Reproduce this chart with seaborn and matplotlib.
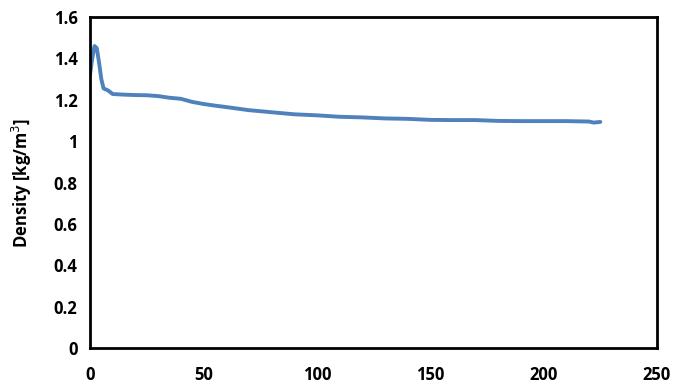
import matplotlib
matplotlib.use("Agg")
import matplotlib.pyplot as plt
import seaborn as sns
import pandas as pd

time = [0, 1, 2, 3, 4, 5, 6, 7, 8, 10, 15, 20, 25, 30, 35, 40, 45, 50, 55, 60,
        70, 80, 90, 100, 110, 120, 130, 140, 150, 160, 170, 180, 190, 200, 210,
        220, 222, 225]
density = [1.32, 1.40, 1.46, 1.45, 1.38, 1.30, 1.255, 1.25, 1.245, 1.228, 1.225,
           1.223, 1.222, 1.218, 1.21, 1.205, 1.19, 1.18, 1.172, 1.165, 1.15, 1.14,
           1.13, 1.125, 1.118, 1.115, 1.11, 1.108, 1.103, 1.102, 1.102, 1.098,
           1.097, 1.097, 1.097, 1.095, 1.09, 1.093]
xticks = [0, 50, 100, 150, 200, 250]
yticks = [0, 0.2, 0.4, 0.6, 0.8, 1, 1.2, 1.4, 1.6]
ytick_labels = ["0", "0.2", "0.4", "0.6", "0.8", "1", "1.2", "1.4", "1.6"]

sns.set_theme(style="white")
plt.rcParams['font.family'] = ['Open Sans', 'DejaVu Sans']

df = pd.DataFrame({"t": time, "d": density})
fig = plt.figure(figsize=(6.89, 3.88), dpi=100)
ax = fig.add_axes([0.1306, 0.103, 0.823, 0.853])
sns.lineplot(data=df, x="t", y="d", ax=ax, color="#4F81BD", linewidth=2.8, sort=False)

ax.set_xlim(0, 250)
ax.set_ylim(0, 1.6)
ax.set_xticks(xticks)
ax.set_xticklabels([str(v) for v in xticks])
ax.set_yticks(yticks)
ax.set_yticklabels(ytick_labels)
for s in ax.spines.values():
    s.set_visible(True)
    s.set_color("black")
    s.set_linewidth(2)
ax.tick_params(axis="both", which="both", direction="out", length=5, width=2,
               colors="black", labelsize=12, pad=4)
ax.tick_params(axis="x", pad=8)
for lab in ax.get_xticklabels() + ax.get_yticklabels():
    lab.set_fontweight("bold")
ax.set_xlabel("")
ax.set_ylabel("Density [kg/m$^3$]", fontsize=12, fontweight="bold", color="black", labelpad=14)
fig.savefig("out.png", dpi=100)
